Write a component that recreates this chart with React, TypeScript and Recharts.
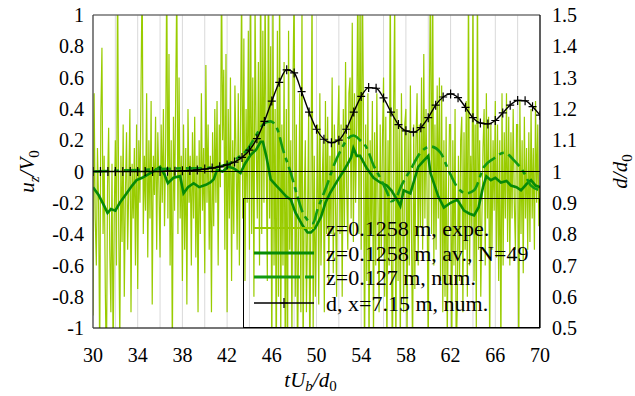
import React from "react";
import {
  LineChart,
  Line,
  XAxis,
  YAxis,
  CartesianGrid,
  ReferenceLine,
  Legend,
  Label,
} from "recharts";

const FONT = "'Liberation Serif', 'Times New Roman', serif";

const X_TICKS = [30, 32, 34, 36, 38, 40, 42, 44, 46, 48, 50, 52, 54, 56, 58, 60, 62, 64, 66, 68, 70];
const U_TICKS = [-1, -0.9, -0.8, -0.7, -0.6, -0.5, -0.4, -0.3, -0.2, -0.1, 0, 0.1, 0.2, 0.3, 0.4, 0.5, 0.6, 0.7, 0.8, 0.9, 1];
const D_TICKS = [0.5, 0.6, 0.7, 0.8, 0.9, 1, 1.1, 1.2, 1.3, 1.4, 1.5];

// experiment, one sample every 0.1 from t=30 (one row = one unit of tUb/d0)
const EXP_START = 30;
const EXP_STEP = 0.1;
const EXP_U = [
  -0.92, 0.5, -0.3, -0.6, 0.15, -0.2, -1.2, 0.35, 0.79, -0.4,
  0.1, -0.75, -1.3, -0.1, 0.28, -0.5, -0.9, 0.05, -1.2, -0.3,
  0.2, -0.6, 1.4, -0.35, -1.1, 0.1, -0.45, 0.3, -0.8, -0.15,
  0.25, -0.5, -0.1, 0.4, -0.9, 0.05, -0.3, 0.15, -0.6, 0.3,
  -0.75, 0.2, -0.2, 0.55, 1.3, -0.4, 0.1, -0.25, 0.5, -0.55,
  0.2, -0.3, 0.45, -0.85, 0.1, -0.15, 0.35, -0.5, 0.25, -0.1,
  -0.55, 0.3, -0.2, 0.4, -0.35, 0.15, 1.3, -0.3, 0.75, -0.6,
  0.2, -1.2, 0.35, -0.25, 0.5, 1.2, -0.4, 0.6, -0.3, 0.1,
  -0.7, 0.3, -0.5, 0.15, -0.85, 0.4, -0.2, 0.1, -0.6, 0.25,
  -0.3, 0.35, -0.55, 0.1, -0.9, 0.2, -0.4, 0.5, -0.25, 0.15,
  -0.65, 0.68, -0.2, 0.3, -0.5, 0.1, -0.9, 0.25, -0.35, 0.4,
  -0.2, 0.45, -0.6, 0.3, -0.1, 1.3, 0.2, 0.65, -0.5, 0.75,
  -0.9, 0.4, -0.3, 0.6, -0.7, 0.2, -0.4, 0.55, 0.1, -0.5,
  0.5, -0.6, 0.3, 1.2, -0.3, 0.85, -0.7, 0.4, -0.2, 0.9,
  -0.5, 1.3, -0.4, 0.6, -0.8, 1.1, 0.2, -0.3, 0.7, -0.6,
  1.4, -0.4, 0.9, -0.2, 1.2, 0.1, -0.7, 1.5, -0.3, 0.8,
  -1.3, 1.2, -0.6, 0.4, -1.4, 0.9, -0.8, 1.3, -1.1, 0.3,
  -0.6, 0.7, -1.2, 0.4, -1.5, 0.9, -0.5, 0.2, -1.1, 0.6,
  1.2, -0.8, 0.3, -1.3, -0.4, 0.5, -0.9, 1.1, -1.2, -0.2,
  0.2, -0.9, -0.3, 0.4, -1.3, -0.2, 1.2, -1.0, 0.1, -0.8,
  -0.3, 0.3, -0.85, 0.5, -0.6, -0.1, 0.2, -0.9, 0.45, -0.4,
  0.35, -0.7, 0.1, -0.4, 0.6, -0.65, 0.3, -0.2, -0.8, 0.25,
  0.55, -0.4, 0.3, -0.8, 0.4, -0.35, 0.7, -0.1, -0.5, 0.5,
  0.6, -0.3, 0.95, -0.45, 0.5, -0.2, 0.3, 1.3, -0.4, 1.2,
  -0.5, 1.3, 0.4, -1.3, 0.3, -0.7, 0.5, -1.2, 0.2, -0.4,
  0.45, -1.1, 0.25, -0.6, 0.5, -0.2, -0.9, 0.3, -0.55, 0.2,
  0.6, -0.8, 0.35, -1.2, 0.2, -0.6, 1.3, -0.5, -1.3, 0.4,
  1.1, -1.3, 0.4, -0.7, 0.3, -1.2, 0.5, -0.2, -0.9, 0.3,
  0.4, -1.1, 0.25, -0.6, 0.55, -0.4, -1.2, 0.3, -0.75, 0.2,
  0.5, -0.6, 0.3, -0.35, 0.6, -0.5, 0.75, -0.3, 0.4, -0.2,
  -1.2, 0.45, 1.3, -0.4, 1.2, -0.6, 0.3, -0.5, 0.55, -0.3,
  0.6, -0.7, 0.55, -0.9, 0.2, -0.8, 0.35, -1.1, -0.2, 0.3,
  0.3, -1.3, 0.2, -0.6, 0.4, -1.2, -0.85, 0.1, -0.7, 0.2,
  0.35, -0.9, 0.25, -0.5, 0.45, -0.8, 1.3, -0.6, 0.1, -0.4,
  1.2, -0.7, 0.3, -1.0, 1.3, -0.5, 0.2, -0.8, -0.3, 0.15,
  0.4, -0.6, 0.5, -0.3, 0.35, -1.2, 0.3, -0.5, 0.2, -0.25,
  0.45, -0.55, 0.3, -0.7, 0.2, -1.2, 0.5, -0.6, 0.25, -0.3,
  0.5, -0.45, 0.35, -0.6, 0.25, -0.3, 0.4, -0.2, -0.5, 0.3,
  0.3, -1.2, 0.45, -0.4, 0.2, -0.65, 0.35, -0.3, 0.15, -0.5,
  0.25, -0.45, 0.4, -0.3, 0.15, -0.5, 0.45, -0.2, 0.3, -0.35,
  -0.1,
];

// ensemble average, N=49
const AV_T = [
  30, 30.5, 31, 31.3, 31.6, 32, 32.4, 33, 33.5, 33.9, 34.4, 34.9, 35.4, 36, 36.4, 36.7,
  37.2, 37.8, 38.1, 38.5, 39, 39.5, 40.1, 40.5, 40.8, 41.1, 41.6, 42.1, 42.6, 43.2, 43.6,
  44.1, 44.6, 45, 45.2, 45.5, 45.9, 46.4, 46.8, 47.3, 47.7, 48.1, 48.4, 48.8, 49.2, 49.5,
  49.9, 50.4, 50.8, 51.2, 51.9, 52.4, 52.8, 53.1, 53.3, 53.6, 53.9, 54.5, 55.1, 55.7, 56.3,
  56.7, 57.2, 57.5, 57.8, 58.4, 59.1, 59.6, 60, 60.2, 60.9, 61.4, 62, 62.6, 63.2, 63.7,
  64.1, 64.5, 64.9, 65.2, 65.6, 66, 66.5, 67, 67.4, 67.9, 68.3, 68.8, 69.2, 69.6, 70,
];
const AV_U = [
  -0.1, -0.15, -0.22, -0.265, -0.24, -0.25, -0.2, -0.14, -0.09, -0.055, -0.04, -0.02, 0, 0.03, -0.02, -0.075,
  -0.04, -0.03, -0.14, -0.1, -0.075, -0.1, -0.085, -0.07, -0.05, 0.01, 0, 0.03, 0.02, -0.01, 0.05,
  0.105, 0.14, 0.19, 0.19, 0.1, -0.05, -0.09, -0.12, -0.16, -0.18, -0.26, -0.3, -0.35, -0.39, -0.39,
  -0.36, -0.29, -0.2, -0.14, -0.055, 0, 0.05, 0.09, 0.15, 0.1, 0.1, 0.02, -0.04, -0.07, -0.09,
  -0.12, -0.18, -0.22, -0.12, -0.14, 0.03, 0.07, 0.1, -0.01, -0.16, -0.23, -0.2, -0.18, -0.25, -0.27,
  -0.28, -0.23, -0.1, -0.03, -0.055, -0.04, -0.07, -0.06, -0.09, -0.1, -0.12, -0.08, -0.055, -0.09, -0.1,
];

// numerical, z=0.127 m
const NUM_T = [
  30, 32, 34, 36, 38, 39.5, 40.5, 41.5, 42.3, 43, 43.8, 44.5, 45, 45.5, 45.9, 46.5, 47, 47.7,
  48.3, 48.7, 49.2, 49.7, 50.1, 50.6, 51, 51.5, 52.2, 52.8, 53.3, 53.9, 54.5, 55.1, 55.7, 56.3,
  56.7, 57.1, 57.6, 58.4, 59.3, 60.2, 61.1, 61.8, 62.6, 63.4, 64.1, 65, 65.8, 66.8, 67.7, 68.5,
  69.2, 70,
];
const NUM_U = [
  0, 0.005, 0.01, 0.015, 0.02, 0.02, 0.025, 0.035, 0.055, 0.09, 0.14, 0.22, 0.28, 0.315, 0.32, 0.27, 0.14, -0.01,
  -0.16, -0.25, -0.31, -0.33, -0.24, -0.15, -0.075, 0.03, 0.14, 0.21, 0.23, 0.2, 0.15, 0.04, -0.04, -0.13,
  -0.19, -0.17, -0.09, 0.01, 0.12, 0.16, 0.12, 0.01, -0.1, -0.14, -0.12, 0.03, 0.08, 0.12, 0.07, 0,
  -0.09, -0.12,
];

// depth d/d0 at x=7.15 m, one value every 2/3 from t=30
const D_START = 30;
const D_STEP = 2 / 3;
const D_VAL = [
  1, 1, 1, 1, 1, 1, 1, 1, 1, 1, 1.001, 1.001, 1.002, 1.003, 1.005, 1.008,
  1.011, 1.015, 1.021, 1.03, 1.045, 1.068, 1.105, 1.16, 1.225, 1.285, 1.325, 1.315,
  1.255, 1.19, 1.135, 1.103, 1.092, 1.1, 1.135, 1.19, 1.24, 1.268, 1.266, 1.235,
  1.19, 1.15, 1.13, 1.126, 1.14, 1.172, 1.212, 1.238, 1.248, 1.236, 1.205, 1.172,
  1.155, 1.152, 1.163, 1.187, 1.212, 1.227, 1.226, 1.207, 1.18,
];

const LEGEND_LABELS = [
  "z=0.1258 m, expe.",
  "z=0.1258 m, av., N=49",
  "z=0.127 m, num.",
  "d, x=7.15 m, num.",
];

const C_EXP = "#99cc00";
const C_AV = "#078a07";
const C_NUM = "#129a12";

const expData = EXP_U.map((u, i) => ({ x: EXP_START + i * EXP_STEP, u }));
const avData = AV_T.map((x, i) => ({ x, u: AV_U[i] }));
const numData = NUM_T.map((x, i) => ({ x, u: NUM_U[i] }));
const dData = D_VAL.map((d, i) => ({ x: D_START + i * D_STEP, d }));

const tickStyle = { fontSize: 20, fill: "#000", fontFamily: FONT };

function PlusDot(props: any) {
  const { cx, cy, index } = props;
  if (cx == null || cy == null) return <g key={index} />;
  return (
    <path
      key={index}
      d={`M${cx - 4},${cy}h8M${cx},${cy - 4.5}v9`}
      stroke="#000"
      strokeWidth={1.2}
      fill="none"
    />
  );
}

function LegendBox() {
  const rows = [29, 54, 78, 104];
  return (
    <svg width={297} height={130} style={{ display: "block" }}>
      <line x1={10} x2={70} y1={rows[0]} y2={rows[0]} stroke={C_EXP} strokeWidth={2} />
      <line x1={10} x2={70} y1={rows[1]} y2={rows[1]} stroke={C_AV} strokeWidth={3} />
      <line x1={10} x2={70} y1={rows[2]} y2={rows[2]} stroke={C_NUM} strokeWidth={3} strokeDasharray="46 5 10 5" />
      <line x1={10} x2={70} y1={rows[3]} y2={rows[3]} stroke="#000" strokeWidth={1.5} />
      <path d={`M36,${rows[3]}h8M40,${rows[3] - 5}v10`} stroke="#000" strokeWidth={1.2} />
      {LEGEND_LABELS.map((t, i) => (
        <text key={t} x={82} y={rows[i]} dy="0.35em" fontSize={22} fontFamily={FONT} fill="#000">
          {t}
        </text>
      ))}
    </svg>
  );
}

function LeftTitle(props: any) {
  const vb = props.viewBox;
  const cx = vb.x + 27;
  const cy = vb.y + vb.height / 2;
  return (
    <text x={cx} y={cy} transform={`rotate(-90 ${cx} ${cy})`} textAnchor="middle" dy="0.35em" fontSize={21} fontFamily={FONT} fontStyle="italic" fill="#000">
      <tspan>u</tspan>
      <tspan dy={5} fontSize={15}>z</tspan>
      <tspan dy={-5}>/V</tspan>
      <tspan dy={5} fontSize={15} fontStyle="normal">0</tspan>
    </text>
  );
}

function RightTitle(props: any) {
  const vb = props.viewBox;
  const cx = vb.x + 80;
  const cy = vb.y + vb.height / 2;
  return (
    <text x={cx} y={cy} transform={`rotate(-90 ${cx} ${cy})`} textAnchor="middle" dy="0.35em" fontSize={21} fontFamily={FONT} fontStyle="italic" fill="#000">
      <tspan>d/d</tspan>
      <tspan dy={5} fontSize={15} fontStyle="normal">0</tspan>
    </text>
  );
}

function BottomTitle(props: any) {
  const vb = props.viewBox;
  const cx = vb.x + vb.width / 2 - 6;
  const cy = vb.y + 59;
  return (
    <text x={cx} y={cy} textAnchor="middle" fontSize={21} fontFamily={FONT} fontStyle="italic" fill="#000">
      <tspan>tU</tspan>
      <tspan dy={4} fontSize={15}>b</tspan>
      <tspan dy={-4}>/d</tspan>
      <tspan dy={4} fontSize={15} fontStyle="normal">0</tspan>
    </text>
  );
}

export default function App() {
  return (
    <div style={{ position: "absolute", left: 0, top: 0, width: 635, height: 396, background: "#fff" }}>
      <LineChart width={635} height={396} margin={{ top: 15, right: 0, bottom: 0, left: 0 }}>
        <CartesianGrid stroke="#d9d9d9" strokeWidth={1} />
        <XAxis
          dataKey="x"
          type="number"
          domain={[30, 70]}
          ticks={X_TICKS}
          interval={0}
          allowDataOverflow
          height={68}
          tickLine={false}
          tickMargin={14}
          axisLine={{ stroke: "#000", strokeWidth: 1.2 }}
          tick={tickStyle}
          tickFormatter={(v: number) => ((v - 30) % 4 === 0 ? String(v) : "")}
        >
          <Label content={BottomTitle} />
        </XAxis>
        <YAxis
          yAxisId="u"
          domain={[-1, 1]}
          ticks={U_TICKS}
          interval={0}
          allowDataOverflow
          width={93}
          tickLine={false}
          tickMargin={3}
          axisLine={{ stroke: "#404040", strokeWidth: 1.2 }}
          tick={tickStyle}
          tickFormatter={(v: number) => (Math.round(v * 10) % 2 === 0 ? String(v) : "")}
        >
          <Label content={LeftTitle} />
        </YAxis>
        <YAxis
          yAxisId="d"
          orientation="right"
          domain={[0.5, 1.5]}
          ticks={D_TICKS}
          interval={0}
          allowDataOverflow
          width={95}
          tickLine={false}
          tickMargin={6}
          axisLine={{ stroke: "#000", strokeWidth: 1.2 }}
          tick={tickStyle}
          tickFormatter={(v: number) => String(v)}
        >
          <Label content={RightTitle} />
        </YAxis>
        <Line
          yAxisId="u"
          data={expData}
          dataKey="u"
          type="linear"
          stroke={C_EXP}
          strokeWidth={1.2}
          dot={false}
          isAnimationActive={false}
        />
        <Line
          yAxisId="u"
          data={avData}
          dataKey="u"
          type="linear"
          stroke={C_AV}
          strokeWidth={2.6}
          dot={false}
          isAnimationActive={false}
        />
        <Line
          yAxisId="u"
          data={numData}
          dataKey="u"
          type="monotone"
          stroke={C_NUM}
          strokeWidth={2.6}
          strokeDasharray="16 5 5 5"
          dot={false}
          isAnimationActive={false}
        />
        <ReferenceLine yAxisId="u" y={0} stroke="#000" strokeWidth={1.2} />
        <ReferenceLine yAxisId="u" y={1} stroke="#404040" strokeWidth={1.2} />
        <Line
          yAxisId="d"
          data={dData}
          dataKey="d"
          type="monotone"
          stroke="#000"
          strokeWidth={1.4}
          dot={PlusDot}
          isAnimationActive={false}
        />
        <Legend
          layout="horizontal"
          align="center"
          verticalAlign="middle"
          content={LegendBox}
          wrapperStyle={{
            position: "absolute",
            left: 243,
            top: 198,
            width: 297,
            height: 130,
            border: "1.2px solid #000",
            boxSizing: "border-box",
          }}
        />
      </LineChart>
    </div>
  );
}
